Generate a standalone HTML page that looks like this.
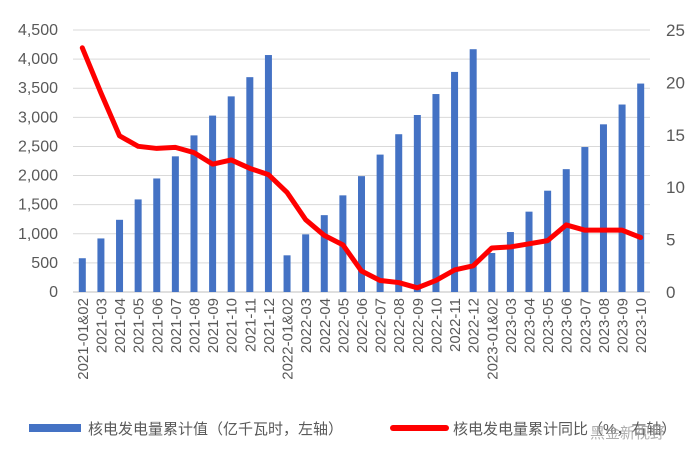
<!DOCTYPE html>
<html><head><meta charset="utf-8"><style>
html,body{margin:0;padding:0;background:#fff;}
svg{display:block;font-family:"Liberation Sans","Noto Sans CJK SC",sans-serif;}
</style></head><body>
<svg id="chart" width="700" height="457"></svg>
<script>
const categories=["2021-01&02","2021-03","2021-04","2021-05","2021-06","2021-07","2021-08","2021-09","2021-10","2021-11","2021-12","2022-01&02","2022-03","2022-04","2022-05","2022-06","2022-07","2022-08","2022-09","2022-10","2022-11","2022-12","2023-01&02","2023-03","2023-04","2023-05","2023-06","2023-07","2023-08","2023-09","2023-10"];
const barValues=[580,920,1240,1590,1950,2330,2690,3030,3360,3690,4070,630,990,1320,1660,1990,2360,2710,3040,3400,3780,4170,670,1030,1380,1740,2110,2490,2880,3220,3580];
const lineValues=[23.3,19,14.9,13.9,13.7,13.8,13.3,12.2,12.6,11.8,11.2,9.5,6.9,5.4,4.5,2,1.1,0.9,0.4,1.1,2.1,2.5,4.2,4.3,4.6,4.9,6.4,5.9,5.9,5.9,5.2];
const leftTicks=[0,500,1000,1500,2000,2500,3000,3500,4000,4500];
const leftTickLabels=["0","500","1,000","1,500","2,000","2,500","3,000","3,500","4,000","4,500"];
const rightTicks=[0,5,10,15,20,25];

const svg=document.getElementById('chart');
const NS="http://www.w3.org/2000/svg";
const L=73,R=650,T=30,B=292;
const band=(R-L)/categories.length;
const xc=i=>L+band*(i+0.5);
const yL=v=>B-(v/4500)*(B-T);
const yR=v=>B-(v/25)*(B-T);
function mk(tag,attrs,parent){const e=document.createElementNS(NS,tag);for(const k in attrs)e.setAttribute(k,attrs[k]);(parent||svg).appendChild(e);return e;}

leftTicks.forEach((v,i)=>{
  const g=mk('line',{x1:L,x2:R,y1:yL(v),y2:yL(v),stroke:v===0?'#bfbfbf':'#d9d9d9','stroke-width':1});
  
  
  const t=mk('text',{x:58,y:yL(v)+5,'text-anchor':'end','font-size':16,fill:'#595959'});
  t.textContent=leftTickLabels[i];
  
  
});
rightTicks.forEach(v=>{
  const t=mk('text',{x:666,y:yR(v)+6,'text-anchor':'start','font-size':17,fill:'#595959'});
  t.textContent=String(v);
  
  
});
barValues.forEach((v,i)=>{
  const r=mk('rect',{x:xc(i)-3.5,y:yL(v),width:7,height:B-yL(v),fill:'#4472c4'});
  
  
});
const pts=lineValues.map((v,i)=>xc(i)+','+yR(v)).join(' ');
const pl=mk('polyline',{points:pts,fill:'none',stroke:'#ff0000','stroke-width':5,'stroke-linejoin':'round','stroke-linecap':'round'});


categories.forEach((c,i)=>{
  const t=mk('text',{transform:'translate('+(xc(i)+5.5)+',298) rotate(-90)','text-anchor':'end','font-size':15,fill:'#595959'});
  t.textContent=c;
  
  
});
const lg=mk('g',{});


const lb=mk('rect',{x:29,y:424,width:52,height:8,fill:'#4472c4'},lg);


const lt1=mk('text',{x:88,y:434,'font-size':15,fill:'#595959'},lg);
lt1.textContent='核电发电量累计值（亿千瓦时，左轴）';


const ll=mk('line',{x1:393,x2:446,y1:428,y2:428,stroke:'#ff0000','stroke-width':6,'stroke-linecap':'round'},lg);


const lt2=mk('text',{x:453,y:434,'font-size':15,fill:'#595959'},lg);
lt2.textContent='核电发电量累计同比（%，右轴）';


const wm=mk('text',{x:590,y:438,'font-size':15,fill:'#9a9a9a',opacity:0.8});
wm.textContent='黑金新视野';


</script>
</body></html>
